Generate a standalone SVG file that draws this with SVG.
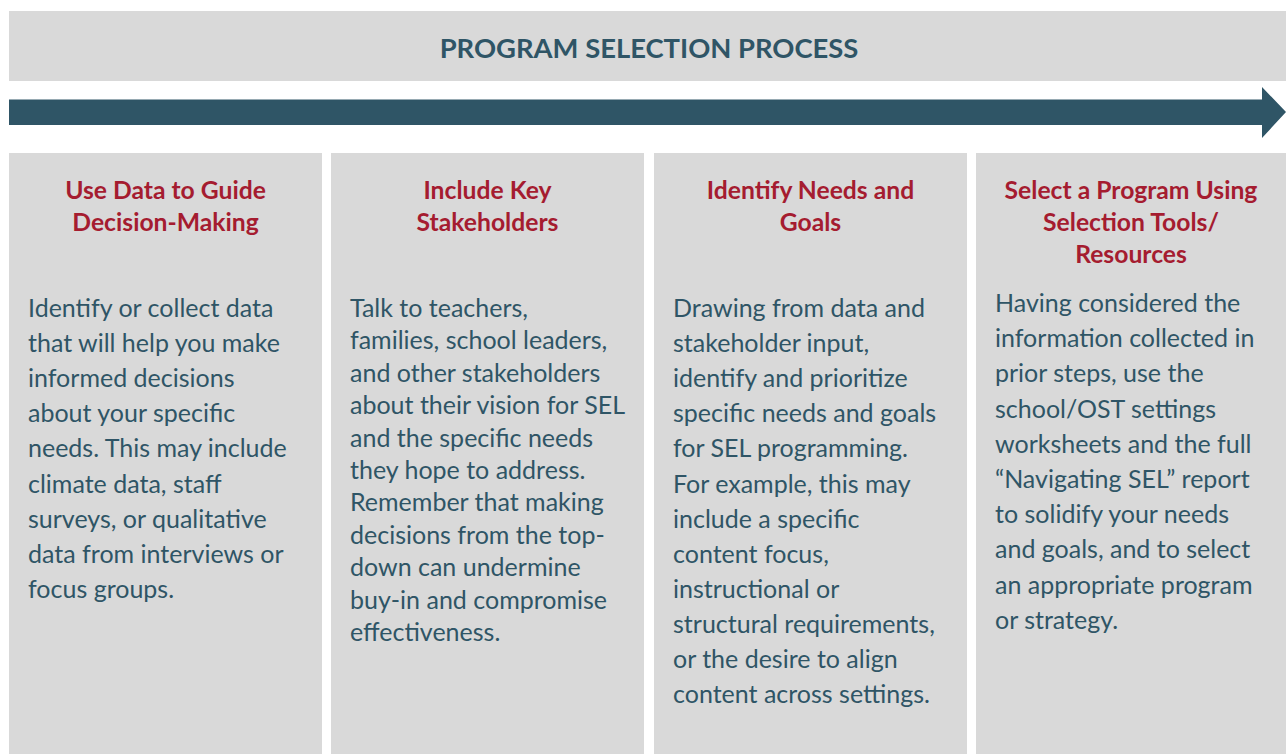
<svg xmlns="http://www.w3.org/2000/svg" width="1286" height="754" viewBox="0 0 1286 754">
<style>
.bg{fill:#D9D9D9}
.title{font-family:Lato,"Open Sans",sans-serif;font-weight:700;font-size:27.4px;fill:#2F5566;text-anchor:middle}
.head{font-family:Lato,"Open Sans",sans-serif;font-weight:700;font-size:24.7px;fill:#A51C30;text-anchor:middle}
.body{font-family:Lato,"Open Sans",sans-serif;font-size:25px;fill:#2F5566}
</style>
<rect width="1286" height="754" fill="#FFFFFF"/>
<g id="title-bar">
<rect class="bg" x="9" y="11" width="1277" height="70"/>
<text class="title" x="649" y="57.5">PROGRAM SELECTION PROCESS</text>
</g>
<g id="connectors">
<polygon points="9,99.5 1262,99.5 1262,87 1286,112 1262,138 1262,125 9,125" fill="#2F5566"/>
</g>
<g id="step1">
<rect class="bg" x="9" y="153" width="313" height="601"/>
<text class="head" x="165.5" y="199">Use Data to Guide</text>
<text class="head" x="165.5" y="231">Decision-Making</text>
<text class="body" x="28" y="317">
<tspan x="28" dy="0">Identify or collect data</tspan>
<tspan x="28" dy="35.1">that will help you make</tspan>
<tspan x="28" dy="35.1">informed decisions</tspan>
<tspan x="28" dy="35.1">about your specific</tspan>
<tspan x="28" dy="35.1">needs. This may include</tspan>
<tspan x="28" dy="35.1">climate data, staff</tspan>
<tspan x="28" dy="35.1">surveys, or qualitative</tspan>
<tspan x="28" dy="35.1">data from interviews or</tspan>
<tspan x="28" dy="35.1">focus groups.</tspan>
</text>
</g>
<g id="step2">
<rect class="bg" x="331" y="153" width="313" height="601"/>
<text class="head" x="487.5" y="199">Include Key</text>
<text class="head" x="487.5" y="231">Stakeholders</text>
<text class="body" x="350" y="317">
<tspan x="350" dy="0">Talk to teachers,</tspan>
<tspan x="350" dy="32.4">families, school leaders,</tspan>
<tspan x="350" dy="32.4">and other stakeholders</tspan>
<tspan x="350" dy="32.4">about their vision for SEL</tspan>
<tspan x="350" dy="32.4">and the specific needs</tspan>
<tspan x="350" dy="32.4">they hope to address.</tspan>
<tspan x="350" dy="32.4">Remember that making</tspan>
<tspan x="350" dy="32.4">decisions from the top-</tspan>
<tspan x="350" dy="32.4">down can undermine</tspan>
<tspan x="350" dy="32.4">buy-in and compromise</tspan>
<tspan x="350" dy="32.4">effectiveness.</tspan>
</text>
</g>
<g id="step3">
<rect class="bg" x="654" y="153" width="313" height="601"/>
<text class="head" x="810.5" y="199">Identify Needs and</text>
<text class="head" x="810.5" y="231">Goals</text>
<text class="body" x="673" y="317">
<tspan x="673" dy="0">Drawing from data and</tspan>
<tspan x="673" dy="35.1">stakeholder input,</tspan>
<tspan x="673" dy="35.1">identify and prioritize</tspan>
<tspan x="673" dy="35.1">specific needs and goals</tspan>
<tspan x="673" dy="35.1">for SEL programming.</tspan>
<tspan x="673" dy="35.1">For example, this may</tspan>
<tspan x="673" dy="35.1">include a specific</tspan>
<tspan x="673" dy="35.1">content focus,</tspan>
<tspan x="673" dy="35.1">instructional or</tspan>
<tspan x="673" dy="35.1">structural requirements,</tspan>
<tspan x="673" dy="35.1">or the desire to align</tspan>
<tspan x="673" dy="35.1">content across settings.</tspan>
</text>
</g>
<g id="step4">
<rect class="bg" x="976" y="153" width="310" height="601"/>
<text class="head" x="1131" y="199">Select a Program Using</text>
<text class="head" x="1131" y="231">Selection Tools/</text>
<text class="head" x="1131" y="263">Resources</text>
<text class="body" x="995" y="312">
<tspan x="995" dy="0">Having considered the</tspan>
<tspan x="995" dy="35.2">information collected in</tspan>
<tspan x="995" dy="35.2">prior steps, use the</tspan>
<tspan x="995" dy="35.2">school/OST settings</tspan>
<tspan x="995" dy="35.2">worksheets and the full</tspan>
<tspan x="995" dy="35.2">“Navigating SEL” report</tspan>
<tspan x="995" dy="35.2">to solidify your needs</tspan>
<tspan x="995" dy="35.2">and goals, and to select</tspan>
<tspan x="995" dy="35.2">an appropriate program</tspan>
<tspan x="995" dy="35.2">or strategy.</tspan>
</text>
</g>
</svg>
